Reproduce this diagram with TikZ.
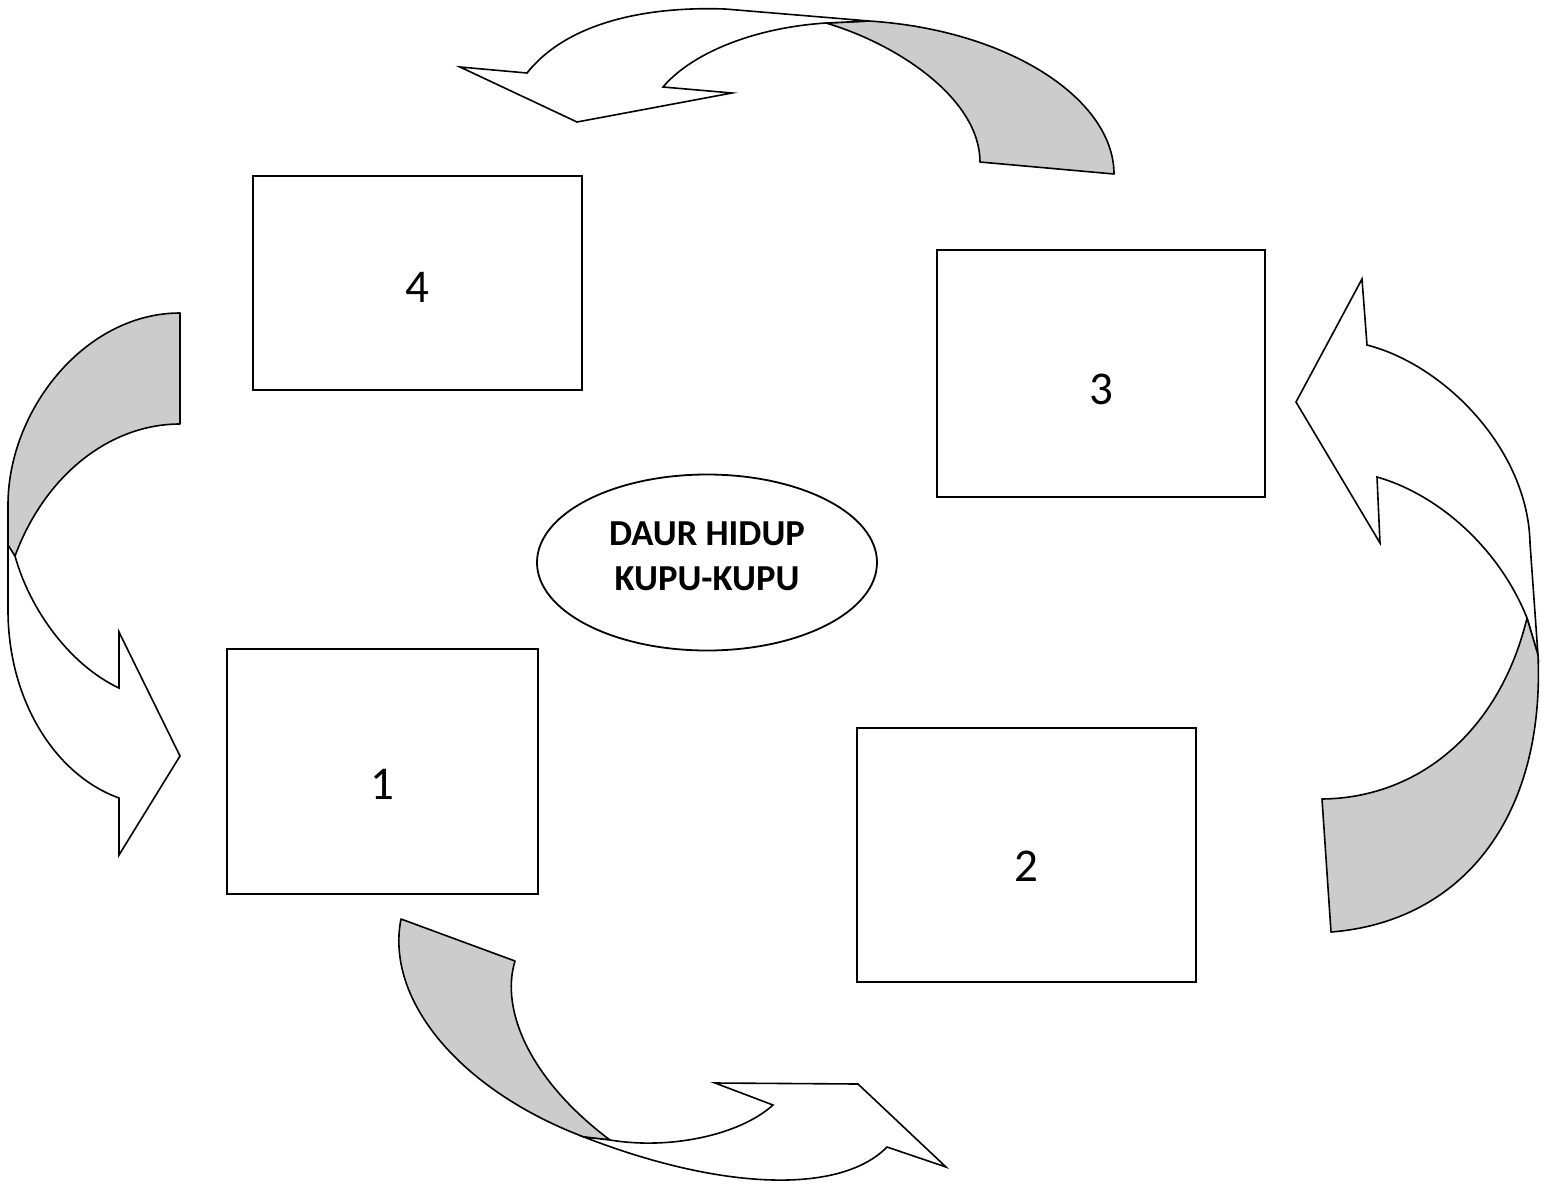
\documentclass[tikz,border=0pt]{standalone}
\usepackage{fontspec}
\setmainfont{Carlito}
\usetikzlibrary{shapes.geometric}

\begin{document}
\begin{tikzpicture}[
  x=0.5pt, y=-0.5pt,
  stage/.style={draw, line width=0.9pt, inner sep=0pt},
  num/.style={font=\fontsize{23.5}{28}\selectfont},
  title/.style={ellipse, draw, line width=0.9pt, minimum width=170pt, minimum height=88pt},
  back/.style={draw, line width=0.8pt, fill=black!20, line join=round},
  front/.style={draw, line width=0.8pt, fill=white}
]
\useasboundingbox (0,0) rectangle (1544,1190);

\node[stage, minimum width=164.5pt, minimum height=107pt, label={[num,yshift=-2pt]center:4}] (kupu) at (417.5,283) {};
\node[stage, minimum width=164pt, minimum height=123.5pt, label={[num,yshift=-8pt]center:3}] (kepompong) at (1101,373.5) {};
\node[stage, minimum width=155.5pt, minimum height=122.5pt, label={[num,yshift=-6.5pt]center:1}] (telur) at (382.5,771.5) {};
\node[stage, minimum width=169.5pt, minimum height=127pt, label={[num,yshift=-5.5pt]center:2}] (ulat) at (1026.5,855) {};
\node[title, label={[align=center,font=\bfseries\fontsize{18.3}{22.5}\selectfont,yshift=3pt]center:DAUR HIDUP\\KUPU-KUPU}] (daur) at (707,562.5) {};

% 3 -> 4
\draw[back] (826,23) .. controls (900,45) and (980,100) .. (980,162) -- (1114,174)
  .. controls (1114,100) and (1010,30) .. (869,21) -- cycle;
\draw[front] (826,23) .. controls (750,28) and (690,55) .. (663,87) -- (732,93) -- (577,122)
  -- (460,67) -- (527,73) .. controls (565,25) and (640,6) .. (725,9) -- (869,21) -- cycle;

% 4 -> 1
\draw[front] (15,556) .. controls (30,610) and (70,665) .. (119,688) -- (119,632) -- (180,756)
  -- (119,855) -- (119,798) .. controls (55,775) and (8,700) .. (8,610) -- (8,540) -- cycle;
\draw[back] (180,313) .. controls (85,313) and (8,410) .. (8,505) -- (8,545) -- (15,556)
  .. controls (45,475) and (110,424) .. (180,424) -- cycle;

% 1 -> 2
\draw[back] (610,1140) .. controls (530,1080) and (500,1010) .. (515,961) -- (401,919)
  .. controls (385,1000) and (460,1090) .. (584,1137) -- cycle;
\draw[front] (610,1140) .. controls (670,1150) and (740,1135) .. (773,1105) -- (715,1083)
  -- (858,1084) -- (946,1167) -- (887,1147) .. controls (840,1195) and (720,1190) .. (584,1137) -- cycle;

% 2 -> 3
\draw[front] (1527,618) .. controls (1500,550) and (1440,495) .. (1377,477) -- (1380,543)
  -- (1296,402) -- (1362,279) -- (1367,345) .. controls (1445,365) and (1528,450) .. (1530,543)
  -- (1538,655) -- cycle;
\draw[back] (1527,618) .. controls (1500,730) and (1420,798) .. (1322,799) -- (1331,932)
  .. controls (1460,922) and (1545,820) .. (1538,655) -- cycle;
\end{tikzpicture}
\end{document}
